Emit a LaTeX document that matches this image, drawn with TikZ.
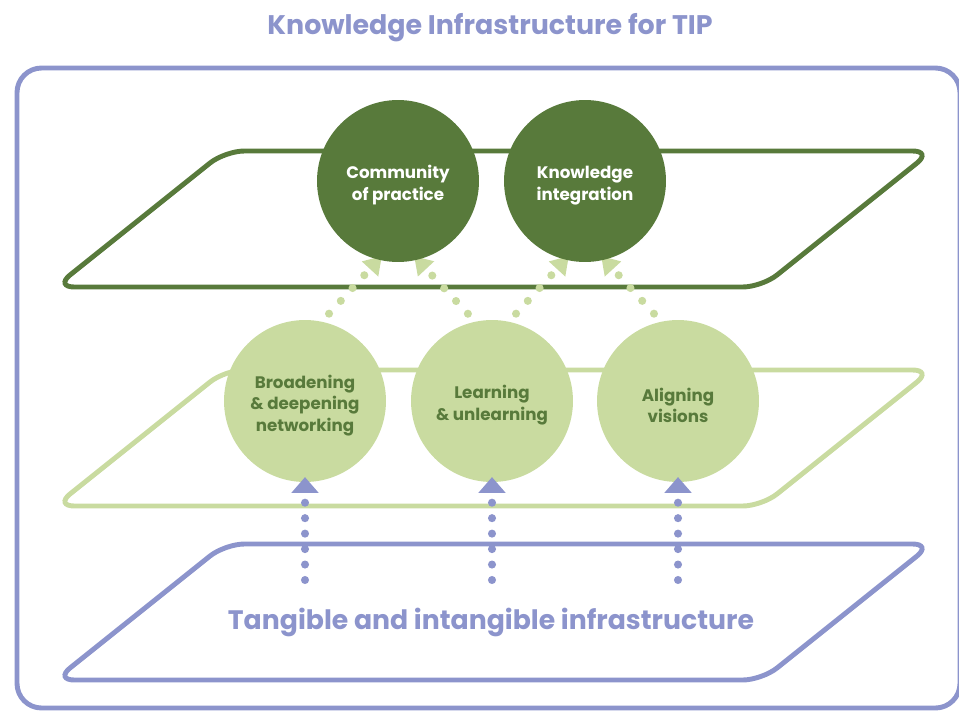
\documentclass[tikz,border=0pt]{standalone}
\usepackage{fontspec}
\setmainfont{Poppins}
\usepackage{xcolor}
\usetikzlibrary{arrows.meta,positioning}

\definecolor{tipPurple}{HTML}{8C94CC}
\definecolor{darkGreen}{HTML}{587A3B}
\definecolor{lightGreen}{HTML}{C9DBA0}

\pgfdeclarelayer{bg}
\pgfsetlayers{bg,main}

% pushes the label a little down in its circle
\newcommand{\lowerby}{\rule{0pt}{12.5pt}}

\tikzset{
  plane/.style={line width=2.8pt, rounded corners=11pt},
  bubble/.style={circle, minimum size=3.24cm, inner sep=0pt, align=center,
    font=\fontsize{9.5}{12.3}\selectfont\bfseries},
  greendots/.style={lightGreen, line width=4.6pt, line cap=round,
    dash pattern=on 0pt off 9.9pt, shorten <=6pt, shorten >=-3pt,
    -{Triangle[width=12pt,length=10pt]}},
  purpledots/.style={tipPurple, line width=4.6pt, line cap=round,
    dash pattern=on 0pt off 8.8pt, shorten >=-3pt,
    -{Triangle[width=15pt,length=9pt]}}
}

\begin{document}
\begin{tikzpicture}[x=0.02cm,y=-0.02cm]
\useasboundingbox (0,0) rectangle (959,710);

% Title and outer frame
\node[tipPurple,font=\fontsize{15.3}{18}\selectfont\bfseries] (title) at (490,28) {Knowledge Infrastructure for TIP};
\draw[tipPurple,line width=2.8pt,rounded corners=14pt] (17,68) rectangle (960,708);

% Three planes
\begin{pgfonlayer}{bg}
\foreach \y/\col in {151/darkGreen, 370/lightGreen, 544/tipPurple}
  \draw[plane,\col] (55,\y+136) -- (762,\y+136) -- (932,\y) -- (225,\y) -- cycle;
\end{pgfonlayer}

% Upper circles
\node[bubble,fill=darkGreen,text=white] (cop) at (398,181) {\lowerby Community\\of practice};
\node[bubble,fill=darkGreen,text=white] (ki) at (585,181) {\lowerby Knowledge\\integration};

% Middle circles
\node[bubble,fill=lightGreen,text=darkGreen] (bdn) at (305,401) {\lowerby Broadening\\\& deepening\\networking};
\node[bubble,fill=lightGreen,text=darkGreen] (lu) at (492,401) {\lowerby Learning\\\& unlearning};
\node[bubble,fill=lightGreen,text=darkGreen] (av) at (678,401) {\lowerby Aligning\\visions};

% Dotted links up to the top plane
\begin{pgfonlayer}{bg}
\draw[greendots] (bdn.78) -- (cop.256);
\draw[greendots] (lu.102) -- (cop.284);
\draw[greendots] (lu.78) -- (ki.256);
\draw[greendots] (av.102) -- (ki.284);
\end{pgfonlayer}

% Dotted links from the infrastructure
\coordinate (s1) at (305,580);
\coordinate (s2) at (492,580);
\coordinate (s3) at (678,580);
\draw[purpledots] (s1) -- (bdn.south);
\draw[purpledots] (s2) -- (lu.south);
\draw[purpledots] (s3) -- (av.south);

\node[tipPurple,font=\fontsize{15.2}{18}\selectfont\bfseries] (infra) at (491,622) {Tangible and intangible infrastructure};
\end{tikzpicture}
\end{document}
